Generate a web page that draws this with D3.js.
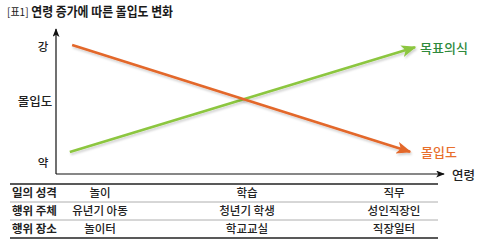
<!DOCTYPE html>
<html>
<head>
<meta charset="utf-8">
<script src="https://cdn.jsdelivr.net/npm/d3@7"></script>
<style>
  body { margin: 0; background: #fff; }
  text { font-family: "Noto Sans CJK KR", "Noto Sans", sans-serif; }
</style>
</head>
<body>
<svg id="chart" width="479" height="244"></svg>
<script>
// data
var stages = ["놀이", "학습", "직무"];
var rowLabels = ["일의 성격", "행위 주체", "행위 장소"];
var rowValues = [
  ["놀이", "학습", "직무"],
  ["유년기 아동", "청년기 학생", "성인직장인"],
  ["놀이터", "학교교실", "직장일터"]
];
// age (0-100) vs level (0-100)
var commitment = [{age: 4.2, v: 92.1}, {age: 92.2, v: 15.9}];
var purpose = [{age: 3.6, v: 15.7}, {age: 93.5, v: 90.5}];
var levelTicks = [{label: "강", v: 91}, {label: "약", v: 8}];

var svg = d3.select("svg#chart");

var x = d3.scaleLinear().domain([0, 100]).range([56, 440]);
var y = d3.scaleLinear().domain([0, 100]).range([174, 34]);
var col = d3.scalePoint().domain(stages).range([100, 394]);
var row = d3.scaleBand().domain(rowLabels).range([184, 238]);

var defs = svg.append("defs");

// soft shadow under lines
var f = defs.append("filter").attr("id", "shadow")
    .attr("x", "-10%").attr("y", "-10%").attr("width", "120%").attr("height", "130%");
f.append("feDropShadow").attr("dx", 1).attr("dy", 2).attr("stdDeviation", 1.2)
    .attr("flood-color", "#000").attr("flood-opacity", 0.18);

function marker(id, color, w, h) {
  defs.append("marker")
      .attr("id", id)
      .attr("viewBox", "0 0 10 8")
      .attr("refX", 9).attr("refY", 4)
      .attr("markerUnits", "userSpaceOnUse")
      .attr("markerWidth", w).attr("markerHeight", h)
      .attr("orient", "auto")
    .append("path")
      .attr("d", "M0,0 L10,4 L0,8 L2.5,4 Z")
      .attr("fill", color);
}
marker("arrOrange", "#e3672b", 16, 12);
marker("arrGreen", "#8cc63f", 16, 12);
marker("arrBlack", "#111", 9, 7);

// title
svg.append("text")
    .attr("x", 7).attr("y", 16)
    .attr("font-size", 13)
    .attr("font-weight", "bold")
    .attr("fill", "#1a1a1a")
    .attr("textLength", 166)
    .attr("lengthAdjust", "spacingAndGlyphs")
    .html('<tspan font-weight="normal" font-size="11">[표1]</tspan> 연령 증가에 따른 몰입도 변화');

// axes
var g = svg.append("g");
g.append("line")
    .attr("x1", x(0)).attr("y1", y(0))
    .attr("x2", x(0)).attr("y2", 29)
    .attr("stroke", "#111").attr("stroke-width", 1.2)
    .attr("marker-end", "url(#arrBlack)");
g.append("line")
    .attr("x1", x(0)).attr("y1", y(0))
    .attr("x2", 444).attr("y2", y(0))
    .attr("stroke", "#111").attr("stroke-width", 1.2)
    .attr("marker-end", "url(#arrBlack)");

g.selectAll(".lvl")
    .data(levelTicks)
  .enter().append("text")
    .attr("class", "lvl")
    .attr("x", 43).attr("y", function(d) { return y(d.v); })
    .attr("dy", "0.35em")
    .attr("text-anchor", "middle")
    .attr("font-size", 11.5)
    .attr("font-weight", 500)
    .attr("fill", "#222")
    .text(function(d) { return d.label; });

g.append("text")
    .attr("x", 35).attr("y", 102)
    .attr("dy", "0.35em")
    .attr("text-anchor", "middle")
    .attr("font-size", 12.5)
    .attr("font-weight", 500)
    .attr("fill", "#222")
    .text("몰입도");

g.append("text")
    .attr("x", 452).attr("y", 176)
    .attr("dy", "0.35em")
    .attr("font-size", 12.5)
    .attr("font-weight", 500)
    .attr("fill", "#222")
    .text("연령");

// trend lines
var line = d3.line()
    .x(function(d) { return x(d.age); })
    .y(function(d) { return y(d.v); });

g.append("path")
    .datum(purpose)
    .attr("fill", "none")
    .attr("stroke", "#8cc63f")
    .attr("stroke-width", 2.6)
    .attr("filter", "url(#shadow)")
    .attr("marker-end", "url(#arrGreen)")
    .attr("d", line);

g.append("path")
    .datum(commitment)
    .attr("fill", "none")
    .attr("stroke", "#e3672b")
    .attr("stroke-width", 2.6)
    .attr("filter", "url(#shadow)")
    .attr("marker-end", "url(#arrOrange)")
    .attr("d", line);

g.append("text")
    .attr("x", 420).attr("y", y(purpose[1].v) + 1)
    .attr("dy", "0.35em")
    .attr("font-size", 13)
    .attr("font-weight", 500)
    .attr("fill", "#2f8a3c")
    .text("목표의식");

g.append("text")
    .attr("x", 421).attr("y", y(commitment[1].v) + 1)
    .attr("dy", "0.35em")
    .attr("font-size", 13)
    .attr("font-weight", 500)
    .attr("fill", "#e8702c")
    .text("몰입도");

// table
var t = svg.append("g");
var rules = [184].concat(rowLabels.map(function(r) { return row(r) + row.bandwidth(); }));
t.selectAll(".rule")
    .data(rules)
  .enter().append("line")
    .attr("class", "rule")
    .attr("x1", 10).attr("x2", 438)
    .attr("y1", function(d) { return d; }).attr("y2", function(d) { return d; })
    .attr("stroke", function(d, i) { return (i === 0 || i === rules.length - 1) ? "#222" : "#999"; })
    .attr("stroke-width", function(d, i) { return (i === 0 || i === rules.length - 1) ? 1.4 : 0.8; });

t.selectAll(".rl")
    .data(rowLabels)
  .enter().append("text")
    .attr("class", "rl")
    .attr("x", 12)
    .attr("y", function(d) { return row(d) + row.bandwidth() / 2; })
    .attr("dy", "0.35em")
    .attr("font-size", 11.5)
    .attr("font-weight", "bold")
    .attr("fill", "#222")
    .text(function(d) { return d; });

rowValues.forEach(function(vals, i) {
  t.selectAll(".cell" + i)
      .data(vals)
    .enter().append("text")
      .attr("x", function(d, j) { return col(stages[j]); })
      .attr("y", row(rowLabels[i]) + row.bandwidth() / 2)
      .attr("dy", "0.35em")
      .attr("text-anchor", "middle")
      .attr("font-size", 11.5)
      .attr("font-weight", 500)
      .attr("fill", "#222")
      .text(function(d) { return d; });
});
</script>
</body>
</html>
